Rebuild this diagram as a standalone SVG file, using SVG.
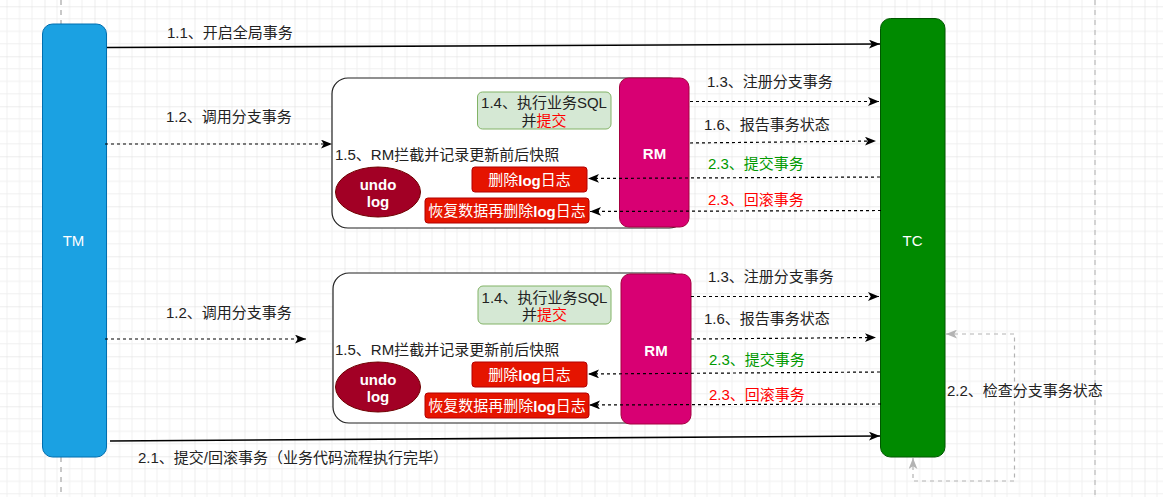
<svg xmlns="http://www.w3.org/2000/svg" width="1163" height="497" viewBox="0 0 1163 497">
<defs>
<pattern id="grid" patternUnits="userSpaceOnUse" x="44.5" y="6.3" width="50" height="50">
<path d="M12.5 0V50M25 0V50M37.5 0V50M0 12.5H50M0 25H50M0 37.5H50" stroke="#f0f0f0" stroke-width="1" fill="none"/>
<path d="M0 0V50M0 0H50" stroke="#dcdcdc" stroke-width="1" fill="none"/>
</pattern>
<marker id="arr" viewBox="0 0 10 8" refX="10" refY="4" markerWidth="11" markerHeight="9" markerUnits="userSpaceOnUse" orient="auto">
<path d="M0 0L10 4L0 8L2.5 4Z" fill="#000"/>
</marker>
<marker id="arrg" viewBox="0 0 10 8" refX="10" refY="4" markerWidth="11" markerHeight="9" markerUnits="userSpaceOnUse" orient="auto-start-reverse">
<path d="M0 0L10 4L0 8L2.5 4Z" fill="#b3b3b3"/>
</marker>
</defs>
<style>
text{font-family:"Liberation Sans","Noto Sans CJK SC",sans-serif;font-size:15px;dominant-baseline:central}
.lbl{fill:#222}
.w{fill:#fff;text-anchor:middle}
.b{font-weight:bold}
.c{text-anchor:middle}
.dash{stroke:#000;stroke-width:1.2;stroke-dasharray:3 3;fill:none}
.solid{stroke:#000;stroke-width:1.6;fill:none}
.cont{fill:#fff;stroke:#222;stroke-width:1.2}
.rm{fill:#d80073;stroke:#a50040}
.green{fill:#d5e8d4;stroke:#82b366}
.red{fill:#e51400;stroke:#b20000}
.undo{fill:#a20025;stroke:#6f0000}
</style>
<rect width="1163" height="497" fill="#fff"/>
<rect width="1163" height="497" fill="url(#grid)"/>
<g id="lifelines" stroke-dasharray="5 5" fill="none">
<path d="M61 0V24M61 457V497" stroke="#c8c8c8" stroke-width="2"/>
<path d="M1095 0V497" stroke="#b0b0b0" stroke-width="1"/>
</g>
<g id="TM">
<rect x="42.5" y="24" width="64" height="433" rx="10" fill="#1ba1e2" stroke="#006eaf"/>
<text class="w" x="73.5" y="240">TM</text>
</g>
<g id="TC">
<rect x="880.5" y="18.5" width="64.5" height="438.5" rx="10" fill="#008a00" stroke="#005700"/>
<text class="w" x="912.5" y="240">TC</text>
</g>
<g id="branch1">
<rect class="cont" x="332" y="78" width="353" height="150" rx="16"/>
<rect class="green" x="477.5" y="92" width="133.5" height="37" rx="5"/>
<text class="c lbl" x="544" y="102">1.4、执行业务SQL</text>
<text class="c lbl" x="544" y="120">并<tspan fill="#ff0000">提交</tspan></text>
<text class="lbl" x="335" y="154">1.5、RM拦截并记录更新前后快照</text>
<ellipse class="undo" cx="378" cy="192" rx="42.5" ry="25"/>
<text class="w b" x="378" y="184">undo</text>
<text class="w b" x="378" y="201">log</text>
<rect class="red" x="472" y="167" width="115" height="25" rx="3"/>
<text class="w" x="529.5" y="179.5">删除<tspan class="b">log</tspan>日志</text>
<rect class="red" x="425" y="198" width="164" height="25" rx="3"/>
<text class="w" x="507" y="210.5">恢复数据再删除<tspan class="b">log</tspan>日志</text>
<rect class="rm" x="619.5" y="78" width="69.5" height="149" rx="9"/>
<text class="w b" x="654.5" y="153">RM</text>
</g>
<g id="branch2">
<rect class="cont" x="333" y="273" width="353" height="150" rx="16"/>
<rect class="green" x="478" y="286" width="133" height="38" rx="5"/>
<text class="c lbl" x="544.5" y="297">1.4、执行业务SQL</text>
<text class="c lbl" x="544.5" y="314">并<tspan fill="#ff0000">提交</tspan></text>
<text class="lbl" x="335" y="349">1.5、RM拦截并记录更新前后快照</text>
<ellipse class="undo" cx="378" cy="387" rx="42.5" ry="25"/>
<text class="w b" x="378" y="379">undo</text>
<text class="w b" x="378" y="396">log</text>
<rect class="red" x="472" y="362" width="115" height="25" rx="3"/>
<text class="w" x="529.5" y="374.5">删除<tspan class="b">log</tspan>日志</text>
<rect class="red" x="425" y="393" width="164" height="25" rx="3"/>
<text class="w" x="507" y="405.5">恢复数据再删除<tspan class="b">log</tspan>日志</text>
<rect class="rm" x="621" y="274" width="70" height="150" rx="9"/>
<text class="w b" x="656" y="350">RM</text>
</g>
<g id="connectors">
<path class="solid" d="M107 47.5L880 44" marker-end="url(#arr)"/>
<path class="dash" d="M105 144H332" marker-end="url(#arr)"/>
<path class="dash" d="M690 101.5H879" marker-end="url(#arr)"/>
<path class="dash" d="M690 143L876 141" marker-end="url(#arr)"/>
<path class="dash" d="M880 177L588 178.5" marker-end="url(#arr)"/>
<path class="dash" d="M881 210.5L590 211.5" marker-end="url(#arr)"/>
<path class="dash" d="M105 339H306" marker-end="url(#arr)"/>
<path class="dash" d="M691 296.5H879" marker-end="url(#arr)"/>
<path class="dash" d="M691 339L876 337.5" marker-end="url(#arr)"/>
<path class="dash" d="M880 372L588 374" marker-end="url(#arr)"/>
<path class="dash" d="M881 404L589 405" marker-end="url(#arr)"/>
<path class="solid" d="M110 441L880 436" marker-end="url(#arr)"/>
<path d="M913 458V481H1014.5V334H946" fill="none" stroke="#b3b3b3" stroke-width="1.2" stroke-dasharray="4 4" marker-start="url(#arrg)" marker-end="url(#arrg)"/>
</g>
<g id="labels">
<text class="lbl" x="167" y="32">1.1、开启全局事务</text>
<text class="lbl" x="166" y="116">1.2、调用分支事务</text>
<text class="lbl" x="707" y="81">1.3、注册分支事务</text>
<text class="lbl" x="704" y="124">1.6、报告事务状态</text>
<text x="708" y="163" fill="#009900">2.3、提交事务</text>
<text x="708" y="199" fill="#ff0000">2.3、回滚事务</text>
<text class="lbl" x="166" y="312">1.2、调用分支事务</text>
<text class="lbl" x="708" y="276">1.3、注册分支事务</text>
<text class="lbl" x="704" y="318">1.6、报告事务状态</text>
<text x="709" y="359" fill="#009900">2.3、提交事务</text>
<text x="709" y="394" fill="#ff0000">2.3、回滚事务</text>
<text class="lbl" x="947" y="390">2.2、检查分支事务状态</text>
<text class="lbl" x="138" y="457">2.1、提交/回滚事务（业务代码流程执行完毕）</text>
</g>
</svg>
